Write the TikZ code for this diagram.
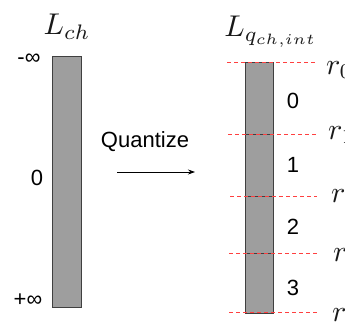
\documentclass[tikz,border=0pt]{standalone}
\usepackage{graphicx}
\usepackage{fontspec}
\usetikzlibrary{arrows.meta}
\newfontfamily\sans{Liberation Sans}
\newcommand{\mybigmath}[1]{\scalebox{3.0}{$#1$}}
\begin{document}
\begin{tikzpicture}[x=1pt,y=-1pt,
  bar/.style={draw=black!75,fill=black!38,line width=0.8pt},
  rline/.style={draw=red!75,dashed,dash pattern=on 4pt off 3pt,line width=0.9pt},
  lbl/.style={font=\sans\fontsize{22}{24}\selectfont,inner sep=0pt},
  mlbl/.style={inner sep=0pt,text=black!90}]
\useasboundingbox (0,0) rectangle (345,326);
\clip (0,0) rectangle (345,326);
% left bar
\path[bar] (52,56) rectangle (81,307);
\node[mlbl] (lch) at (67,27) {\mybigmath{L_{ch}}};
\node[lbl] (minf) at (29,59) {-∞};
\node[lbl] (zero) at (37,178) {0};
\node[lbl] (pinf) at (28,300) {+∞};
% quantize
\node[lbl] (q) at (145,142) {Quantize};
\coordinate (a1) at (117,172);
\coordinate (a2) at (195,172);
\draw[-{Stealth[length=7pt,width=5pt]},line width=0.8pt] (a1) -- (a2);
% right bar segments
\path[bar] (245,62.7) rectangle (273,134);
\path[bar] (245,134) rectangle (273,196);
\path[bar] (245,196) rectangle (273,253);
\path[bar] (245,253) rectangle (273,313);
\node[mlbl] (lq) at (271,32) {\mybigmath{L_{q_{ch,int}}}};
\node[lbl] (n0) at (293,101) {0};
\node[lbl] (n1) at (293,165) {1};
\node[lbl] (n2) at (293,227) {2};
\node[lbl] (n3) at (293,288) {3};
% dashed thresholds
\coordinate (l0) at (227,62.7); \coordinate (e0) at (316,62.7);
\coordinate (l1) at (228,134); \coordinate (e1) at (316,134);
\coordinate (l2) at (230,196); \coordinate (e2) at (317,196);
\coordinate (l3) at (229,253); \coordinate (e3) at (317,253);
\coordinate (l4) at (229,312); \coordinate (e4) at (317,312);
\draw[rline] (l0) -- (e0);
\draw[rline] (l1) -- (e1);
\draw[rline] (l2) -- (e2);
\draw[rline] (l3) -- (e3);
\draw[rline] (l4) -- (e4);
\node[mlbl,anchor=west] (r0) at (326,70) {\mybigmath{r_0}};
\node[mlbl,anchor=west] (r1) at (328,135) {\mybigmath{r_1}};
\node[mlbl,anchor=west] (r2) at (331,198) {\mybigmath{r_2}};
\node[mlbl,anchor=west] (r3) at (333,257) {\mybigmath{r_3}};
\node[mlbl,anchor=west] (r4) at (332,317) {\mybigmath{r_4}};
\end{tikzpicture}
\end{document}
